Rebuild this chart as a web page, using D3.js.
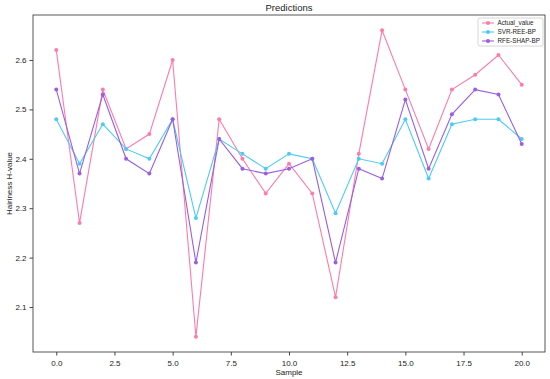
<!DOCTYPE html>
<html>
<head>
<meta charset="utf-8">
<script src="https://cdn.jsdelivr.net/npm/d3@7"></script>
<style>
  body { margin: 0; background: #fff; }
  text { font-family: "Liberation Sans", Arial, sans-serif; }
</style>
</head>
<body>
<div id="viz"></div>
<script>
// values
const samples = d3.range(21)
const actual = [2.62, 2.27, 2.54, 2.42, 2.45, 2.60, 2.04, 2.48, 2.40, 2.33, 2.39, 2.33, 2.12, 2.41, 2.66, 2.54, 2.42, 2.54, 2.57, 2.61, 2.55]
const svr = [2.48, 2.39, 2.47, 2.42, 2.40, 2.48, 2.28, 2.44, 2.41, 2.38, 2.41, 2.40, 2.29, 2.40, 2.39, 2.48, 2.36, 2.47, 2.48, 2.48, 2.44]
const rfe = [2.54, 2.37, 2.53, 2.40, 2.37, 2.48, 2.19, 2.44, 2.38, 2.37, 2.38, 2.40, 2.19, 2.38, 2.36, 2.52, 2.38, 2.49, 2.54, 2.53, 2.43]
const seriesNames = ["Actual_value", "SVR-REE-BP", "RFE-SHAP-BP"]
const xTicks = [0, 2.5, 5, 7.5, 10, 12.5, 15, 17.5, 20]
const yTicks = [2.1, 2.2, 2.3, 2.4, 2.5, 2.6]

const width = 550
const height = 379
const margin = {top: 15, right: 5, bottom: 27, left: 33}
const colors = ["#ff7bab", "#4ccbf7", "#9a5ee0"]

const svg = d3.select("#viz").append("svg")
    .attr("width", width)
    .attr("height", height)

const x = d3.scaleLinear().domain([-1, 21]).range([margin.left, width - margin.right])
const y = d3.scaleLinear().domain([2.009, 2.691]).range([height - margin.bottom, margin.top])

// axes
svg.append("g")
    .attr("transform", `translate(0,${height - margin.bottom})`)
    .call(d3.axisBottom(x).tickValues(xTicks).tickFormat(d3.format(".1f")).tickSizeOuter(0).tickSize(3.5))
    .call(g => g.select(".domain").remove())
    .call(g => g.selectAll("line").attr("stroke", "#444"))
    .call(g => g.selectAll("text").attr("font-size", 8).attr("fill", "#222").attr("dy", "0.9em"))

svg.append("g")
    .attr("transform", `translate(${margin.left},0)`)
    .call(d3.axisLeft(y).tickValues(yTicks).tickFormat(d3.format(".1f")).tickSizeOuter(0).tickSize(3.5))
    .call(g => g.select(".domain").remove())
    .call(g => g.selectAll("line").attr("stroke", "#444"))
    .call(g => g.selectAll("text").attr("font-size", 8).attr("fill", "#222"))

svg.append("rect")
    .attr("x", margin.left)
    .attr("y", margin.top)
    .attr("width", width - margin.left - margin.right)
    .attr("height", height - margin.top - margin.bottom)
    .attr("fill", "none")
    .attr("stroke", "#444")
    .attr("stroke-width", 0.9)

// labels
svg.append("text").attr("x", (margin.left + width - margin.right) / 2).attr("y", 11)
    .attr("text-anchor", "middle").attr("font-size", 9.5).attr("fill", "#222").text("Predictions")
svg.append("text").attr("x", (margin.left + width - margin.right) / 2).attr("y", 375)
    .attr("text-anchor", "middle").attr("font-size", 8).attr("fill", "#222").text("Sample")
svg.append("text")
    .attr("transform", `translate(12,${(margin.top + height - margin.bottom) / 2}) rotate(-90)`)
    .attr("text-anchor", "middle").attr("font-size", 8).attr("fill", "#222").text("Hairiness H-value")

// lines
const line = d3.line().x((d, i) => x(samples[i])).y(d => y(d))
const allSeries = [actual, svr, rfe]

allSeries.forEach((vals, k) => {
    svg.append("path")
        .attr("d", line(vals))
        .attr("fill", "none")
        .attr("stroke", colors[k])
        .attr("stroke-width", 1.1)
    svg.selectAll(null)
        .data(vals)
        .enter()
        .append("circle")
        .attr("cx", (d, i) => x(samples[i]))
        .attr("cy", d => y(d))
        .attr("r", 2)
        .attr("fill", colors[k])
})

// legend
const legend = svg.append("g").attr("transform", "translate(478,18)")
legend.append("rect")
    .attr("width", 65).attr("height", 28).attr("rx", 2)
    .attr("fill", "#fff").attr("stroke", "#ccc").attr("stroke-width", 0.8)
seriesNames.forEach((name, k) => {
    const g = legend.append("g").attr("transform", `translate(0,${5 + k * 9})`)
    g.append("line").attr("x1", 4).attr("x2", 16).attr("stroke", colors[k]).attr("stroke-width", 1.1)
    g.append("circle").attr("cx", 10).attr("r", 2).attr("fill", colors[k])
    g.append("text").attr("x", 19.5).attr("dy", "0.35em").attr("font-size", 6.3).attr("fill", "#222").text(name)
})
</script>
</body>
</html>
